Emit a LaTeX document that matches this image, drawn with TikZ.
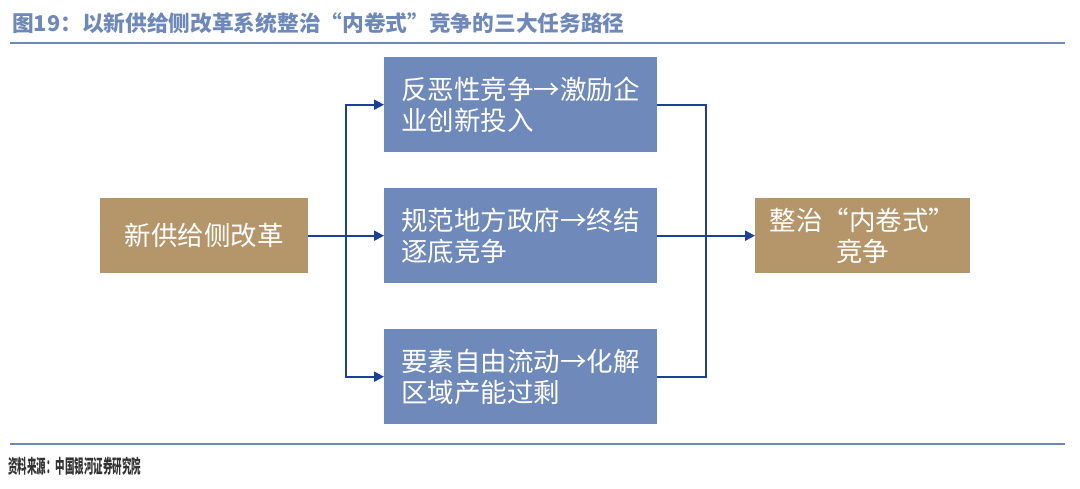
\documentclass[tikz,border=0pt]{standalone}
\usepackage{fontspec}
\setmainfont{Noto Sans CJK SC}
\newfontfamily\cjk{Noto Sans CJK SC}
\usetikzlibrary{arrows.meta}
\definecolor{boxblue}{HTML}{6F89BB}
\definecolor{boxtan}{HTML}{B5956A}
\definecolor{linkblue}{HTML}{1E3F96}
\definecolor{titleblue}{HTML}{6F88BA}
\definecolor{srcgray}{HTML}{333333}
\tikzset{
  basebox/.style={inner sep=0pt, anchor=north west, text=white, font=\cjk\fontsize{26.5}{31}\selectfont},
  bluebox/.style={basebox, fill=boxblue, minimum width=273pt, minimum height=95pt, align=left},
  tanbox/.style={basebox, fill=boxtan, minimum height=75pt, align=center},
  link/.style={draw=linkblue, line width=2pt},
  conn/.style={link, -{Triangle[length=10pt,width=10pt]}},
  rulestyle/.style={draw=titleblue, line width=2pt}
}
\begin{document}
\begin{tikzpicture}[x=1pt,y=-1pt]
\useasboundingbox[fill=white] (0,0) rectangle (1080,488);
\node[anchor=west, text=titleblue, font=\cjk\bfseries\fontsize{21.7}{24}\selectfont, inner sep=0pt] (title) at (12,23) {图19：以新供给侧改革系统整治“内卷式”竞争的三大任务路径};
\draw[rulestyle] (10,43) -- (1065,43);
\draw[rulestyle] (10,444) -- (1065,444);
\node[anchor=west, text=srcgray, font=\cjk\bfseries\fontsize{19}{22}\selectfont, inner sep=0pt] (src) at (8,466) {\scalebox{0.5}[1]{资料来源：中国银河证券研究院}};

\node[tanbox, minimum width=208pt] (a) at (100,198) {新供给侧改革};
\node[bluebox] (t1) at (384,57) {反恶性竞争→激励企\\业创新投入};
\node[bluebox] (t2) at (384,188) {规范地方政府→终结\\逐底竞争};
\node[bluebox] (t3) at (384,329) {要素自由流动→化解\\区域产能过剩};
\node[tanbox, minimum width=215pt] (b) at (755,198) {整治“内卷式”\\竞争};

\coordinate (jl) at (346,236);
\coordinate (jr) at (706,236);
\draw[conn] (a.east) -- (t2.west);
\draw[conn] (jl) |- (t1.west);
\draw[conn] (jl) |- (t3.west);
\draw[link] (t1.east) -| (jr);
\draw[link] (t3.east) -| (jr);
\draw[conn] (t2.east) -- (b.west);
\end{tikzpicture}
\end{document}
